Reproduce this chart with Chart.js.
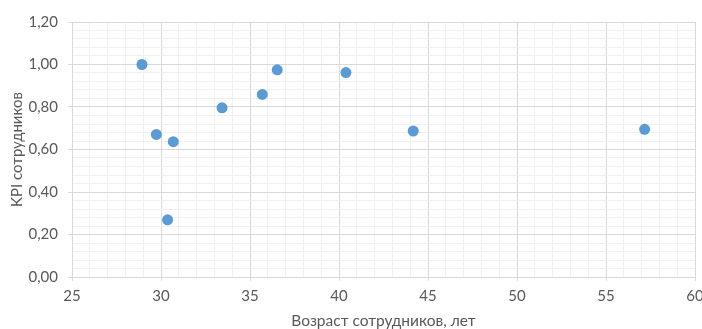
<!DOCTYPE html>
<html>
<head>
<meta charset="utf-8">
<script src="https://cdn.jsdelivr.net/npm/chart.js@4/dist/chart.umd.min.js"></script>
<style>
  html, body { margin: 0; padding: 0; background: #ffffff; }
  #wrap { width: 702px; height: 329px; position: relative; }
</style>
</head>
<body>
<div id="wrap"><canvas id="chart"></canvas></div>
<script>
// Employee age (years) and KPI for each employee
const ages = [28.93, 29.74, 30.69, 30.37, 33.43, 35.69, 36.53, 40.39, 44.17, 57.17];
const kpi  = [1.00, 0.671, 0.637, 0.269, 0.796, 0.859, 0.975, 0.962, 0.687, 0.695];

// Axis labelling
const xTickLabels = ['25', '30', '35', '40', '45', '50', '55', '60'];
const yTickLabels = ['0,00', '0,20', '0,40', '0,60', '0,80', '1,00', '1,20'];
const xTitle = 'Возраст сотрудников, лет';
const yTitle = 'KPI сотрудников';

const FONT = 'Lato, "Open Sans", sans-serif';
const TEXT = '#595959';
const MAJOR = '#d9d9d9';
const MINOR = '#f0f0f0';

const points = ages.map((a, i) => ({ x: a, y: kpi[i] }));

// Minor grid every 1 year / 0.04 KPI; major every 5 years / 0.2 KPI
const xMajorIdx = v => Math.round(v - 25) % 5 === 0 ? Math.round((v - 25) / 5) : -1;
const yMajorIdx = v => Math.round(v / 0.04) % 5 === 0 ? Math.round(v / 0.2) : -1;

new Chart(document.getElementById('chart'), {
  type: 'scatter',
  data: {
    datasets: [{
      data: points,
      backgroundColor: '#5b9bd5',
      borderColor: '#5b9bd5',
      borderWidth: 0,
      pointRadius: 5.5,
      pointHoverRadius: 5.5
    }]
  },
  options: {
    responsive: true,
    maintainAspectRatio: false,
    animation: false,
    layout: { padding: { left: 0, right: 7, top: 22, bottom: 0 } },
    plugins: { legend: { display: false }, tooltip: { enabled: false } },
    scales: {
      x: {
        type: 'linear',
        min: 25, max: 60,
        afterFit: s => { s.height = 52; s.paddingLeft = 0; s.paddingRight = 0; },
        border: { color: MAJOR, width: 1 },
        grid: {
          color: c => (c.tick && xMajorIdx(c.tick.value) >= 0) ? MAJOR : MINOR,
          tickColor: c => (c.tick && xMajorIdx(c.tick.value) >= 0) ? MAJOR : 'rgba(0,0,0,0)',
          tickLength: 4
        },
        ticks: {
          stepSize: 1,
          autoSkip: false,
          maxRotation: 0,
          padding: 6,
          color: TEXT,
          font: { family: FONT, size: 15 },
          callback: v => { const i = xMajorIdx(v); return i >= 0 ? xTickLabels[i] : ''; }
        },
        title: {
          display: true,
          text: xTitle,
          color: TEXT,
          font: { family: FONT, size: 15.5, lineHeight: 1 },
          padding: { top: 0, bottom: 0 }
        }
      },
      y: {
        type: 'linear',
        min: 0, max: 1.2,
        afterFit: s => { s.width = 72; s.paddingTop = 0; s.paddingBottom = 0; },
        border: { color: MAJOR, width: 1 },
        grid: {
          color: c => (c.tick && yMajorIdx(c.tick.value) >= 0) ? MAJOR : MINOR,
          tickColor: c => (c.tick && yMajorIdx(c.tick.value) >= 0) ? MAJOR : 'rgba(0,0,0,0)',
          tickLength: 4
        },
        ticks: {
          stepSize: 0.04,
          autoSkip: false,
          padding: 10,
          color: TEXT,
          font: { family: FONT, size: 15 },
          callback: v => { const i = yMajorIdx(v); return i >= 0 ? yTickLabels[i] : ''; }
        },
        title: {
          display: true,
          text: yTitle,
          color: TEXT,
          font: { family: FONT, size: 15, lineHeight: 1 },
          padding: { top: 10, bottom: 0 }
        }
      }
    }
  }
});
</script>
</body>
</html>
